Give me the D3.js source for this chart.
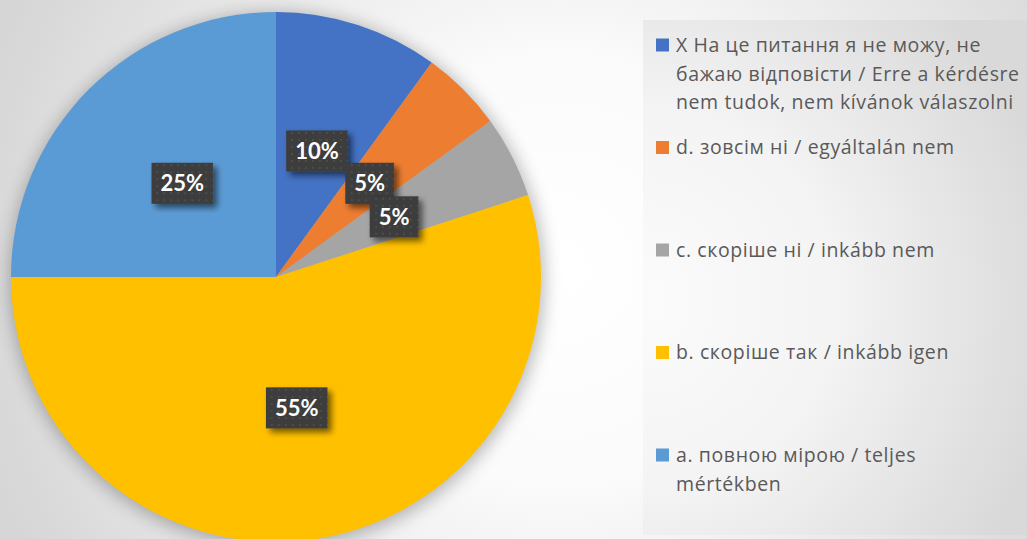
<!DOCTYPE html>
<html>
<head>
<meta charset="utf-8">
<script src="https://cdn.jsdelivr.net/npm/d3@7"></script>
<style>
  html, body { margin: 0; padding: 0; background: #fff; }
  svg { display: block; font-family: Lato, "Noto Sans", sans-serif; }
</style>
</head>
<body>
<svg id="chart" width="1027" height="539"></svg>
<script>
"use strict";

// categories in clockwise order from 12 o'clock
const categories = ["X", "d", "c", "b", "a"];
const values = [10, 5, 5, 55, 25];
const labels = ["10%", "5%", "5%", "55%", "25%"];
const legendLines = [
    ["X На це питання я не можу, не", "бажаю відповісти / Erre a kérdésre", "nem tudok, nem kívánok válaszolni"],
    ["d. зовсім ні / egyáltalán nem"],
    ["c. скоріше ні / inkább nem"],
    ["b. скоріше так / inkább igen"],
    ["a. повною мірою / teljes", "mértékben"]
];
const colors = ["#4472C4", "#ED7D31", "#A5A5A5", "#FFC000", "#5B9BD5"];

const width = 1027;
const height = 539;
const cx = 276;
const cy = 277;
const radius = 265;

const svg = d3.select("#chart");
const defs = svg.append("defs");

// chart background: soft radial gradient
const bgGrad = defs.append("radialGradient")
    .attr("id", "bg-grad")
    .attr("gradientUnits", "userSpaceOnUse")
    .attr("cx", 560).attr("cy", 270).attr("r", 600);
bgGrad.append("stop").attr("offset", "0").attr("stop-color", "#ffffff");
bgGrad.append("stop").attr("offset", "0.35").attr("stop-color", "#fbfbfb");
bgGrad.append("stop").attr("offset", "1").attr("stop-color", "#d6d6d6");

// legend panel gradient
const lgGrad = defs.append("radialGradient")
    .attr("id", "legend-grad")
    .attr("gradientUnits", "userSpaceOnUse")
    .attr("cx", 643).attr("cy", 300).attr("r", 420);
lgGrad.append("stop").attr("offset", "0").attr("stop-color", "#fbfbfb");
lgGrad.append("stop").attr("offset", "0.45").attr("stop-color", "#f4f4f4");
lgGrad.append("stop").attr("offset", "1").attr("stop-color", "#d9d9d9");

// soft shadow for the pie
const pieShadow = defs.append("filter")
    .attr("id", "pie-shadow")
    .attr("x", "-20%").attr("y", "-20%")
    .attr("width", "140%").attr("height", "140%");
pieShadow.append("feGaussianBlur").attr("stdDeviation", 9);

// shadow for data labels
const lblShadow = defs.append("filter")
    .attr("id", "label-shadow")
    .attr("x", "-30%").attr("y", "-30%")
    .attr("width", "160%").attr("height", "160%");
lblShadow.append("feGaussianBlur").attr("in", "SourceAlpha").attr("stdDeviation", 3);
lblShadow.append("feOffset").attr("dx", 4).attr("dy", 4).attr("result", "blur");
lblShadow.append("feComponentTransfer").append("feFuncA")
    .attr("type", "linear").attr("slope", 0.55);
const merge = lblShadow.append("feMerge");
merge.append("feMergeNode");
merge.append("feMergeNode").attr("in", "SourceGraphic");

// dotted pattern for label boxes
const dots = defs.append("pattern")
    .attr("id", "label-dots")
    .attr("patternUnits", "userSpaceOnUse")
    .attr("width", 7).attr("height", 7);
dots.append("rect").attr("width", 7).attr("height", 7).attr("fill", "#3c3c3c");
dots.append("rect").attr("x", 2).attr("y", 2).attr("width", 2).attr("height", 2)
    .attr("fill", "#4d4d4d");

svg.append("rect")
    .attr("width", width).attr("height", height)
    .attr("fill", "url(#bg-grad)");

svg.append("rect")
    .attr("x", 643).attr("y", 20)
    .attr("width", width - 643).attr("height", 515)
    .attr("fill", "url(#legend-grad)");

// pie
const pie = d3.pie().sort(null).value((d) => d);
const arcs = pie(values);
const arc = d3.arc().innerRadius(0).outerRadius(radius);
const labelArc = d3.arc().innerRadius(radius / 2).outerRadius(radius / 2);

const pieG = svg.append("g").attr("transform", `translate(${cx},${cy})`);

pieG.append("circle")
    .attr("cx", 1).attr("cy", 3)
    .attr("r", radius + 2)
    .attr("fill", "#000")
    .attr("opacity", 0.28)
    .attr("filter", "url(#pie-shadow)");

pieG.selectAll("path.slice")
    .data(arcs)
    .enter()
    .append("path")
    .attr("class", "slice")
    .attr("d", arc)
    .attr("fill", (d, i) => colors[i]);

// data labels
const labelG = pieG.selectAll("g.lbl")
    .data(arcs)
    .enter()
    .append("g")
    .attr("class", "lbl")
    .attr("transform", (d) => `translate(${labelArc.centroid(d)})`);

labelG.each(function(d, i) {
    const g = d3.select(this);
    const t = g.append("text")
        .attr("text-anchor", "middle")
        .attr("dy", "0.36em")
        .attr("fill", "#ffffff")
        .attr("font-weight", "bold")
        .attr("font-size", 22)
        .text(labels[i]);
    const w = t.node().getComputedTextLength() + 18;
    const h = 41;
    g.insert("rect", "text")
        .attr("x", -w / 2).attr("y", -h / 2)
        .attr("width", w).attr("height", h)
        .attr("fill", "url(#label-dots)")
        .attr("filter", "url(#label-shadow)");
});

// legend
const legendY = d3.scalePoint().domain(categories).range([45, 455]);
const lineHeight = 28.7;

const legend = svg.append("g").attr("class", "legend");
const items = legend.selectAll("g")
    .data(categories)
    .enter()
    .append("g")
    .attr("transform", (d) => `translate(656,${legendY(d)})`);

items.append("rect")
    .attr("x", 0).attr("y", -6.5)
    .attr("width", 13).attr("height", 13)
    .attr("fill", (d, i) => colors[i]);

items.append("text")
    .attr("x", 20)
    .attr("fill", "#595959")
    .attr("font-family", "'Open Sans', 'Noto Sans', sans-serif")
    .attr("font-size", 19.5)
    .attr("letter-spacing", 0.6)
    .each(function(d, i) {
        d3.select(this).selectAll("tspan")
            .data(legendLines[i])
            .enter()
            .append("tspan")
            .attr("x", 20)
            .attr("y", (l, j) => j * lineHeight)
            .attr("dy", "0.35em")
            .text((l) => l);
    });
</script>
</body>
</html>
